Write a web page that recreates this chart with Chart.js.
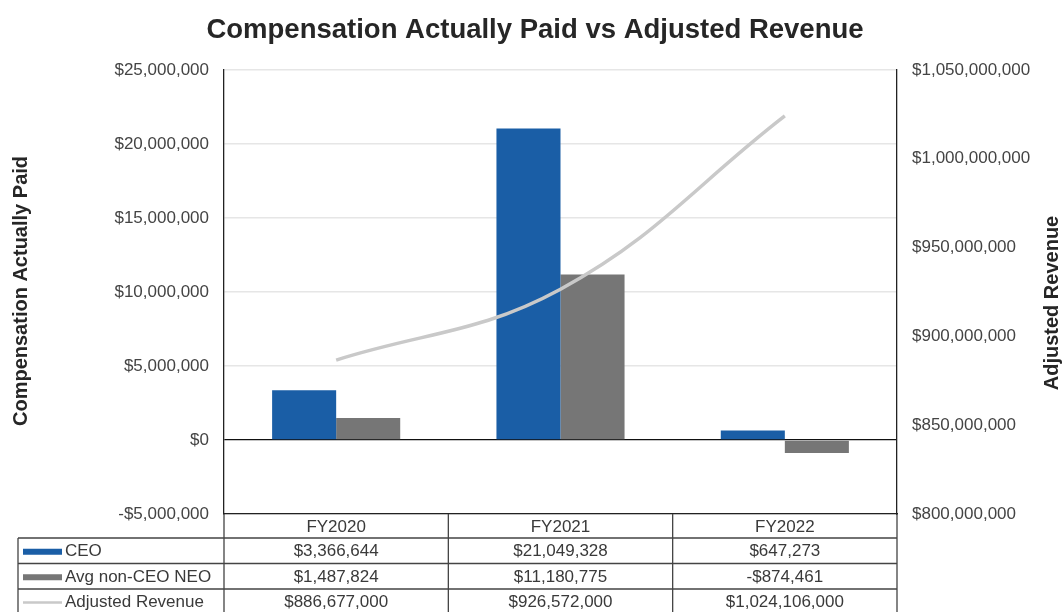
<!DOCTYPE html>
<html>
<head>
<meta charset="utf-8">
<script src="https://cdn.jsdelivr.net/npm/chart.js@4.4.1/dist/chart.umd.min.js"></script>
<style>
html,body{margin:0;padding:0;background:#fff;}
#wrap{width:1063px;height:612px;position:relative;}
</style>
</head>
<body>
<div id="wrap"><canvas id="c" width="1063" height="612"></canvas></div>
<script>
const categories = ['FY2020', 'FY2021', 'FY2022'];
const ceoValues = [3366644, 21049328, 647273];
const neoValues = [1487824, 11180775, -874461];
const revenueValues = [886677000, 926572000, 1024106000];
const seriesNames = ['CEO', 'Avg non-CEO NEO', 'Adjusted Revenue'];
const chartTitle = 'Compensation Actually Paid vs Adjusted Revenue';
const leftAxisTitle = 'Compensation Actually Paid';
const rightAxisTitle = 'Adjusted Revenue';

const FONT = '"Liberation Sans", Arial, sans-serif';
const BLUE = '#1a5ea6';
const GRAY = '#767676';
const LINEGRAY = '#c9c9c9';

function money(v) {
  const s = '$' + Math.abs(v).toLocaleString('en-US');
  return v < 0 ? '-' + s : s;
}

const tablePlugin = {
  id: 'tablePlugin',
  afterDraw(chart) {
    const ctx = chart.ctx;
    const x = chart.scales.x;
    const area = chart.chartArea;
    const half = (area.right - area.left) / categories.length / 2;
    const left = 18;
    const rows = [area.bottom, 538, 563.5, 589, 614];
    ctx.save();
    // title
    ctx.fillStyle = '#262626';
    ctx.font = 'bold 27.5px ' + FONT;
    ctx.textAlign = 'center';
    ctx.textBaseline = 'middle';
    ctx.fillText(chartTitle, 535, 30);
    // axis titles
    ctx.font = 'bold 20px ' + FONT;
    ctx.save();
    ctx.translate(21, 291);
    ctx.rotate(-Math.PI / 2);
    ctx.fillText(leftAxisTitle, 0, 0);
    ctx.restore();
    ctx.save();
    ctx.translate(1052, 303);
    ctx.rotate(-Math.PI / 2);
    ctx.fillText(rightAxisTitle, 0, 0);
    ctx.restore();

    // table lines
    ctx.strokeStyle = '#444';
    ctx.lineWidth = 1.3;
    ctx.beginPath();
    for (let r = 1; r < rows.length - 1; r++) {
      ctx.moveTo(left, rows[r]);
      ctx.lineTo(area.right, rows[r]);
    }
    ctx.moveTo(left, rows[1]);
    ctx.lineTo(left, 612);
    const edges = [area.left];
    categories.forEach((c, i) => edges.push(x.getPixelForValue(i) + half));
    edges.forEach(e => { ctx.moveTo(e, area.bottom); ctx.lineTo(e, 612); });
    ctx.stroke();

    ctx.fillStyle = '#3a3a3a';
    ctx.font = '17px ' + FONT;
    ctx.textAlign = 'center';
    ctx.textBaseline = 'middle';
    const mid = r => (rows[r] + rows[r + 1]) / 2 + 1;
    categories.forEach((c, i) => {
      const cx = x.getPixelForValue(i);
      ctx.fillText(c, cx, mid(0));
      ctx.fillText(money(ceoValues[i]), cx, mid(1));
      ctx.fillText(money(neoValues[i]), cx, mid(2));
      ctx.fillText(money(revenueValues[i]), cx, mid(3));
    });
    // legend keys
    ctx.textAlign = 'left';
    ctx.fillStyle = BLUE;
    ctx.fillRect(23, mid(1) - 3, 39, 6);
    ctx.fillStyle = GRAY;
    ctx.fillRect(23, mid(2) - 3, 39, 6);
    ctx.strokeStyle = LINEGRAY;
    ctx.lineWidth = 2.5;
    ctx.beginPath();
    ctx.moveTo(23, mid(3));
    ctx.lineTo(62, mid(3));
    ctx.stroke();
    ctx.fillStyle = '#3a3a3a';
    ctx.fillText(seriesNames[0], 65, mid(1));
    ctx.fillText(seriesNames[1], 65, mid(2));
    ctx.fillText(seriesNames[2], 65, mid(3));
    ctx.restore();
  }
};

new Chart(document.getElementById('c'), {
  data: {
    labels: categories,
    datasets: [
      {
        type: 'line', label: seriesNames[2], data: revenueValues, yAxisID: 'y1',
        borderColor: LINEGRAY, borderWidth: 3.5, pointRadius: 0, tension: 0.4,
        cubicInterpolationMode: 'default', fill: false, order: 0
      },
      {
        type: 'bar', label: seriesNames[0], data: ceoValues, yAxisID: 'y',
        backgroundColor: BLUE, categoryPercentage: 0.571, barPercentage: 1, order: 1
      },
      {
        type: 'bar', label: seriesNames[1], data: neoValues, yAxisID: 'y',
        backgroundColor: GRAY, categoryPercentage: 0.571, barPercentage: 1, order: 1
      }
    ]
  },
  options: {
    responsive: false,
    animation: false,
    layout: { padding: { top: 70, left: 0, right: 0, bottom: 0 } },
    plugins: { legend: { display: false }, tooltip: { enabled: false }, title: { display: false } },
    scales: {
      x: {
        position: 'bottom',
        grid: { display: false, drawTicks: false },
        border: { display: true, color: '#222', width: 1.3 },
        ticks: { display: false },
        afterFit(s) { s.height = 98; }
      },
      y: {
        position: 'left', min: -5000000, max: 25000000,
        ticks: { stepSize: 5000000, callback: v => money(v), color: '#444', font: { family: FONT, size: 17 }, padding: 15 },
        grid: { color: ctx => ctx.tick && ctx.tick.value === 0 ? '#111' : '#e6e6e6', lineWidth: ctx => ctx.tick && ctx.tick.value === 0 ? 1.3 : 1.5, drawTicks: false },
        border: { display: true, color: '#222', width: 1.3 },
        afterFit(s) { s.width = 224; }
      },
      y1: {
        position: 'right', min: 800000000, max: 1050000000,
        ticks: { stepSize: 50000000, callback: v => money(v), color: '#444', font: { family: FONT, size: 17 }, padding: 15 },
        grid: { display: false, drawTicks: false },
        border: { display: true, color: '#222', width: 1.3 },
        afterFit(s) { s.width = 166; }
      }
    }
  },
  plugins: [tablePlugin]
});
</script>
</body>
</html>
